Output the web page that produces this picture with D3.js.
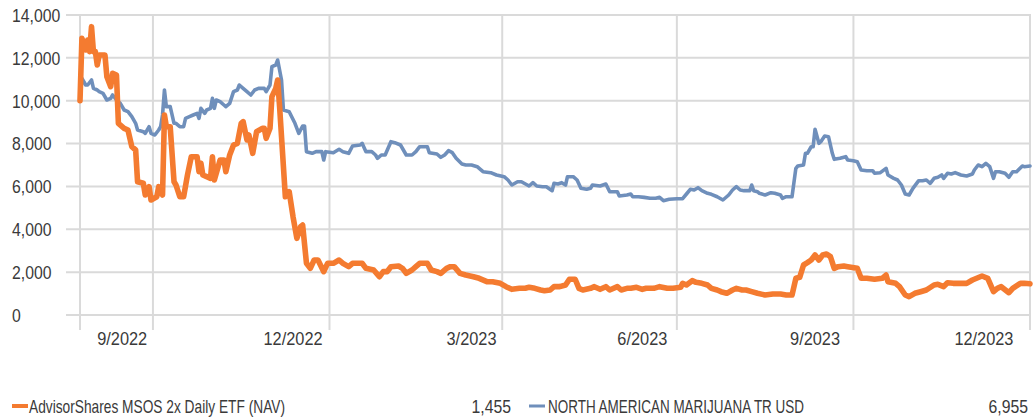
<!DOCTYPE html>
<meta charset="utf-8">
<style>
body { margin: 0; background: #fff; }
svg text { font-family: "Liberation Sans", Arial, sans-serif; font-size: 19px; fill: #3a3a3a; }
.grid line { stroke: #dadada; stroke-width: 2; }
.line { fill: none; stroke-linejoin: round; stroke-linecap: round; }
</style>
<svg width="1035" height="420"></svg>
<script src="https://d3js.org/d3.v7.min.js"></script>
<script>
// growth of 10,000 since launch, day offsets counted from 2022-08-23
var startDate = new Date(2022, 7, 23),
    endDate = new Date(2023, 11, 31);

var seriesNames = ["AdvisorShares MSOS 2x Daily ETF (NAV)", "NORTH AMERICAN MARIJUANA TR USD"];

var msoxDay = [0,1,3,4,5,6,7,8,9,10,13,14,16,17,19,20,23,25,27,29,30,33,34,36,37,40,41,43,44,45,47,49,50,52,54,56,58,61,62,63,64,66,68,69,70,73,75,76,78,80,82,84,85,87,88,90,92,95,96,97,99,100,102,103,104,107,109,111,113,115,116,118,120,122,124,127,129,132,135,137,140,142,147,149,153,156,158,160,162,166,168,170,173,175,177,181,183,186,188,191,193,195,198,201,205,208,212,215,219,222,225,229,232,234,237,240,242,245,247,250,253,255,258,260,262,266,268,271,274,276,280,282,285,287,290,293,295,299,302,306,309,313,314,316,319,321,324,327,329,332,334,337,340,342,345,347,350,353,357,361,365,368,371,373,375,377,379,381,383,385,387,389,391,393,395,398,400,405,407,410,414,418,420,421,425,427,430,432,435,438,441,445,447,450,452,455,459,462,465,470,473,476,478,480,484,486,490,492,495];
var msoxValue = [10000,12910,12367,12833,12290,13455,12290,12290,11667,12133,12133,11120,10653,11280,11200,8945,8712,8633,7853,7700,6220,6145,5600,5988,5367,5520,5988,5600,9333,8788,8788,6220,6067,5520,5520,6533,7388,7388,6688,7078,6533,6455,6378,7388,6300,7233,7233,6688,7467,7933,8012,8945,9022,8167,8400,7545,8553,8712,8712,8245,8712,10188,10578,10967,9722,5520,5753,4588,3578,4122,4200,2412,2178,2567,2567,2022,2412,2412,2567,2412,2255,2412,2412,2178,2100,1788,2022,2022,2255,2287,2178,1945,2100,2255,2412,2412,2100,2022,1945,2178,2255,2255,1945,1867,1788,1712,1555,1555,1478,1322,1198,1245,1245,1292,1245,1167,1135,1167,1322,1322,1400,1667,1667,1245,1167,1245,1322,1198,1322,1167,1322,1167,1245,1245,1292,1198,1245,1245,1322,1245,1245,1292,1478,1400,1602,1525,1478,1400,1245,1167,1088,1012,1167,1245,1167,1167,1088,1012,933,980,980,933,933,1712,1758,2333,2442,2567,2800,2567,2800,2847,2722,2178,2255,2287,2255,2178,1712,1712,1665,1712,1867,1555,1478,1322,933,855,1012,1088,1167,1400,1432,1322,1508,1478,1478,1478,1633,1820,1712,1088,1245,1322,1042,1245,1478,1478,1455];

var indexDay = [0,1,3,4,6,7,9,10,12,14,16,17,19,21,23,25,27,29,30,33,34,36,37,39,41,42,43,44,45,47,49,50,52,54,55,57,59,61,62,63,65,66,68,69,70,71,73,75,76,78,80,82,83,85,87,89,91,93,96,97,99,100,102,103,105,106,109,112,114,116,117,118,121,123,126,127,128,132,135,137,140,142,146,147,149,152,154,155,157,159,162,164,167,170,173,175,177,181,182,186,188,190,192,194,196,199,201,204,207,208,210,214,217,221,223,225,228,230,234,236,238,241,243,246,247,249,251,253,254,257,259,261,264,266,267,271,274,276,280,281,285,287,288,291,294,297,300,302,304,307,311,314,316,318,320,322,324,327,329,332,335,338,340,342,344,346,349,350,351,353,354,357,360,362,365,366,368,371,373,374,377,378,379,381,382,383,385,386,388,390,392,393,396,399,400,403,405,407,410,413,414,417,420,421,424,426,428,430,432,434,437,439,441,443,445,447,449,450,452,454,456,459,462,465,466,468,470,472,474,476,477,479,482,484,486,488,491,492,495];
var indexValue = [10000,11045,10733,10733,10967,10578,10500,10422,10345,10033,10112,10267,10033,9878,9567,9488,9255,8945,8633,8553,8478,8788,8478,8400,8633,8788,9333,10500,9722,9722,8945,8945,8788,8788,9178,9255,9333,9412,9178,9645,9412,9567,9645,10112,9645,10033,9955,9800,9722,9878,10422,10500,10733,10578,10422,10267,10500,10578,10578,10422,10733,11588,11667,11900,10967,9567,9488,8945,8478,8820,8820,7622,7545,7622,7622,7233,7622,7575,7733,7622,7545,7887,7933,8012,7622,7622,7467,7312,7467,7467,8088,8042,7933,7467,7467,7622,7853,7853,7575,7513,7358,7467,7668,7575,7312,7047,7000,7000,6922,6845,6688,6642,6533,6455,6300,6067,6220,6220,6020,6175,6020,5988,5988,5802,6145,6113,6175,6067,6455,6455,6300,5912,5865,5912,6067,6020,6113,5753,5753,5553,5600,5647,5520,5520,5490,5445,5445,5490,5333,5398,5428,5428,5647,5865,5833,5942,5802,5678,5632,5520,5367,5600,5833,5988,5833,5802,5802,6067,5802,5753,5678,5600,5708,5678,5600,5445,5520,5520,6845,6953,7000,7545,7545,7853,7853,8665,8012,8088,8353,8322,7545,7265,7312,7388,7233,7202,7155,6767,6735,6735,6612,6642,6845,6533,6378,6300,6067,5647,5600,5912,6268,6268,6300,6145,6378,6425,6533,6378,6612,6580,6642,6533,6487,6580,6767,7000,6922,7078,6922,6378,6688,6688,6612,6425,6688,6688,6953,6922,6955];

var yTicks = [0, 2000, 4000, 6000, 8000, 10000, 12000, 14000];
var gridDates = [new Date(2022, 7, 23), new Date(2022, 8, 30), new Date(2022, 11, 31), new Date(2023, 2, 31), new Date(2023, 5, 30), new Date(2023, 8, 30), new Date(2023, 11, 31)];
var tickLabels = ["9/2022", "12/2022", "3/2023", "6/2023", "9/2023", "12/2023"];
var tickLabelDates = [new Date(2022, 8, 14), new Date(2022, 11, 12), new Date(2023, 2, 15), new Date(2023, 5, 12), new Date(2023, 8, 10), new Date(2023, 11, 7)];

var colors = ["#f47b30", "#6f8fbb"];

var svg = d3.select("svg");
var x = d3.scaleTime().domain([startDate, endDate]).range([80, 1030]),
    y = d3.scaleLinear().domain([0, 14000]).range([315, 15]);

// the original uses a condensed face; squeeze the regular one to match
function condense(k) {
  return function() {
    var w = this.getComputedTextLength();
    d3.select(this).attr("textLength", w * k).attr("lengthAdjust", "spacingAndGlyphs");
  };
}

var grid = svg.append("g").attr("class", "grid");
grid.selectAll(".h").data(yTicks).enter().append("line")
    .attr("x1", 66).attr("x2", 1031)
    .attr("y1", function(d) { return y(d); })
    .attr("y2", function(d) { return y(d); });
grid.selectAll(".v").data(gridDates).enter().append("line")
    .attr("x1", function(d) { return x(d); })
    .attr("x2", function(d) { return x(d); })
    .attr("y1", y(14000) - 1).attr("y2", 330);

var fmt = d3.format(",d");
svg.append("g").selectAll("text").data(yTicks).enter().append("text")
    .attr("x", 12)
    .attr("y", function(d) { return y(d); })
    .attr("dy", "0.36em")
    .text(function(d) { return fmt(d); })
    .each(condense(0.83));

svg.append("g").selectAll("text").data(tickLabels).enter().append("text")
    .attr("x", function(d, i) { return x(tickLabelDates[i]); })
    .attr("y", 345)
    .attr("text-anchor", "middle")
    .text(function(d) { return d; })
    .each(condense(0.86));

function toPoints(days, values) {
  return days.map(function(d, i) { return [d3.timeDay.offset(startDate, d), values[i]]; });
}
var series = [toPoints(msoxDay, msoxValue), toPoints(indexDay, indexValue)];

var line = d3.line()
    .x(function(d) { return x(d[0]); })
    .y(function(d) { return y(d[1]); });

svg.append("path").attr("class", "line")
    .attr("d", line(series[1]))
    .style("stroke", colors[1]).style("stroke-width", 3.6);
svg.append("path").attr("class", "line")
    .attr("d", line(series[0]))
    .style("stroke", colors[0]).style("stroke-width", 5.6);

// legend
var legend = [
  {name: seriesNames[0], value: msoxValue[msoxValue.length - 1], color: colors[0], mx: 12, h: 4, tx: 29, vx: 511},
  {name: seriesNames[1], value: indexValue[indexValue.length - 1], color: colors[1], mx: 529, h: 3, tx: 548, vx: 1028}
];
var lg = svg.append("g").selectAll("g").data(legend).enter().append("g");
lg.append("rect")
    .attr("x", function(d) { return d.mx; })
    .attr("y", function(d) { return 406 - d.h / 2; })
    .attr("width", 16)
    .attr("height", function(d) { return d.h; })
    .style("fill", function(d) { return d.color; });
lg.append("text")
    .attr("x", function(d) { return d.tx; })
    .attr("y", 413)
    .text(function(d) { return d.name; })
    .each(function() {
      d3.select(this).attr("textLength", 256).attr("lengthAdjust", "spacingAndGlyphs");
    });
lg.append("text")
    .attr("x", function(d) { return d.vx; })
    .attr("y", 413)
    .attr("text-anchor", "end")
    .text(function(d) { return fmt(d.value); })
    .each(condense(0.83));
</script>
